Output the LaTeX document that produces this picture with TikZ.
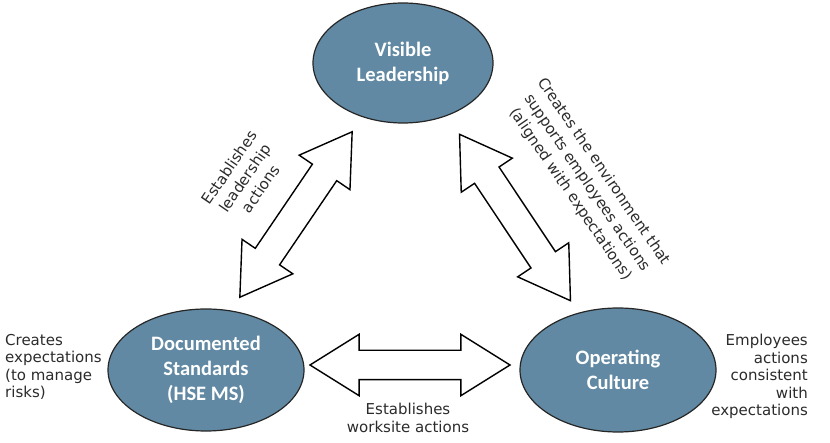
\documentclass[tikz,border=0pt]{standalone}
\usepackage{fontspec}
\setmainfont{DejaVu Sans}
\newfontfamily\capfont{Carlito}
\usetikzlibrary{shapes.geometric,shapes.arrows}
\definecolor{bubblefill}{HTML}{6189A3}
\definecolor{notetext}{HTML}{2B2B2B}
\tikzset{bubble/.style={ellipse,draw=black!85,line width=1.2pt,fill=bubblefill,text=white,align=center,inner sep=0pt,
    font=\capfont\bfseries\fontsize{20.5}{25}\selectfont},
  note/.style={text=notetext,inner sep=0pt,font=\fontsize{15}{17.5}\selectfont},
  dbl/.style={double arrow,draw=black,fill=white,line width=1.4pt,minimum height=200pt,minimum width=60pt,
    double arrow head extend=16pt,double arrow tip angle=64,inner xsep=0pt,inner ysep=14pt}}

\begin{document}
\begin{tikzpicture}[x=1pt,y=-1pt]
\useasboundingbox (0,0) rectangle (830,443);
\node[bubble,minimum width=180pt,minimum height=120pt] (vl) at (403,63) {Visible\\Leadership};
\node[bubble,minimum width=196pt,minimum height=122pt] (ds) at (206,370) {Documented\\Standards\\(HSE MS)};
\node[bubble,minimum width=196pt,minimum height=124pt] (oc) at (618,370) {Operating\\Culture};
\coordinate (l1) at (240,297);
\coordinate (l2) at (352,132);
\coordinate (r1) at (460,135);
\coordinate (r2) at (570,300);
\coordinate (h1) at (310,365);
\coordinate (h2) at (510,365);
\path (l1) -- node[dbl,sloped] (la) {} (l2);
\path (r1) -- node[dbl,sloped] (ra) {} (r2);
\path (h1) -- node[dbl,sloped] (ha) {} (h2);
\node[note,align=center,rotate=55.5,font=\fontsize{15}{19}\selectfont] (lt) at (245,178) {Establishes\\leadership\\actions};
\node[note,align=center,rotate=-55.6,font=\fontsize{15}{20}\selectfont] (rt) at (587,183)
  {Creates the environment that\\supports employees actions\\(aligned with expectations)};
\node[note,align=left,anchor=north west] (dsn) at (5,334) {Creates\\expectations\\(to manage\\risks)};
\node[note,align=right,anchor=north east] (ocn) at (808,334) {Employees\\actions\\consistent\\with\\expectations};
\node[note,align=center,anchor=north] (hn) at (408,403) {Establishes\\worksite actions};
\end{tikzpicture}
\end{document}
